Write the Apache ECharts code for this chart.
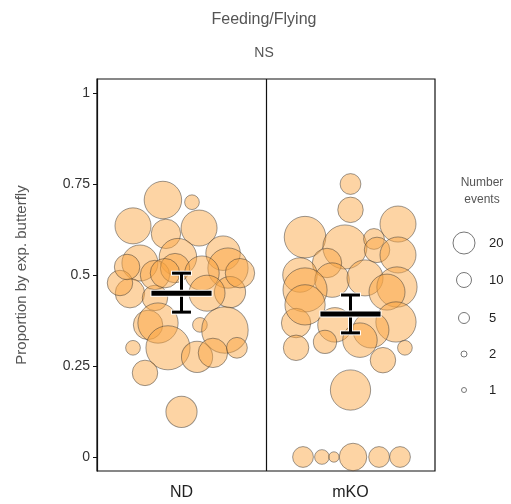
<!DOCTYPE html>
<html>
<head>
<meta charset="utf-8">
<script src="https://cdn.jsdelivr.net/npm/echarts@6/dist/echarts.min.js"></script>
<style>html,body{margin:0;padding:0;background:#fff}#c{width:511px;height:504px}</style>
</head>
<body>
<div id="c"></div>
<script>
// ---- data ----
const categories = ['ND', 'mKO'];
const yTicks = [0, 0.25, 0.5, 0.75, 1];

// ND group: jitter offset (category units), proportion, number of events
const ndOffset = [-0.11, 0.062, -0.287, -0.092, 0.104, -0.246, -0.021, 0.246, 0.275, -0.305, -0.157, -0.157, -0.038, -0.098, 0.121, 0.287, 0.151, -0.364, -0.322, 0.346, -0.198, -0.139, 0.109, 0.257, -0.08, -0.287, 0.092, 0.186, 0.328, -0.216, 0];
const ndProp   = [0.706, 0.70, 0.635, 0.613, 0.629, 0.533, 0.549, 0.56, 0.519, 0.45, 0.437, 0.50, 0.519, 0.505, 0.505, 0.453, 0.45, 0.478, 0.522, 0.505, 0.363, 0.368, 0.363, 0.349, 0.30, 0.30, 0.275, 0.286, 0.30, 0.231, 0.124];
const ndEvents = [13, 2, 12, 8, 12, 12, 13, 11, 15, 8, 6, 8, 8, 8, 11, 9, 12, 6, 6, 8, 8, 15, 2, 20, 18, 2, 9, 8, 4, 6, 9];

// mKO group
const mkoOffset = [0, 0, -0.269, 0.281, -0.033, 0.139, 0.157, 0.281, -0.139, -0.299, -0.109, 0.086, 0.275, -0.269, 0.216, -0.322, -0.269, -0.092, 0.269, 0.121, -0.322, -0.151, 0.056, 0.322, 0.192, 0, -0.281, -0.169, -0.098, 0.015, 0.169, 0.293];
const mkoProp   = [0.75, 0.679, 0.604, 0.64, 0.577, 0.599, 0.569, 0.555, 0.533, 0.50, 0.486, 0.492, 0.467, 0.459, 0.453, 0.368, 0.418, 0.363, 0.371, 0.349, 0.30, 0.316, 0.321, 0.30, 0.266, 0.184, 0, 0, 0, 0, 0, 0];
const mkoEvents = [4, 6, 16, 12, 18, 4, 6, 12, 8, 11, 11, 12, 15, 18, 12, 8, 15, 11, 15, 12, 6, 5, 11, 2, 6, 15, 4, 2, 1, 7, 4, 4];

// summary: mean and error bounds per group
const meanValues  = [0.45, 0.393];
const lowerValues = [0.398, 0.341];
const upperValues = [0.505, 0.445];

// legend
const legendCounts = [20, 10, 5, 2, 1];

// ---- build ----
function pts(off, prop, ev, catIdx) {
  return off.map((o, i) => [catIdx + 1 + o, prop[i], ev[i]]);
}
const ndData = pts(ndOffset, ndProp, ndEvents, 0);
const mkoData = pts(mkoOffset, mkoProp, mkoEvents, 1);
const sumData = meanValues.map((m, i) => [i + 1, m, lowerValues[i], upperValues[i]]);

const bubbleSize = v => 2 * 5.2 * Math.sqrt(v[2]);
const bubbleStyle = {
  color: 'rgba(250,166,65,0.6)',
  borderColor: 'rgba(50,50,50,0.6)',
  borderWidth: 1
};

const chart = echarts.init(document.getElementById('c'), null, {renderer: 'canvas'});

const legendY = [243, 280, 318, 354, 390];
const legendR = [11, 7.5, 5.5, 3, 2.5];
const graphics = [
  {type: 'text', style: {text: 'Number\nevents', x: 482, y: 174, align: 'center', fill: '#555', font: '12px "Liberation Sans", Arial, sans-serif', lineHeight: 17}, silent: true}
];
legendCounts.forEach((c, i) => {
  graphics.push({type: 'circle', shape: {cx: 464, cy: legendY[i], r: legendR[i]}, style: {fill: '#fff', stroke: '#777', lineWidth: 1}, silent: true});
  graphics.push({type: 'text', style: {text: String(c), x: 489, y: legendY[i], verticalAlign: 'middle', fill: '#222', font: '13px "Liberation Sans", Arial, sans-serif'}, silent: true});
});

const option = {
  animation: false,
  backgroundColor: '#fff',
  title: [
    {text: 'Feeding/Flying', left: 259, textAlign: 'center', top: 7, textStyle: {fontSize: 16, fontWeight: 'normal', color: '#555', fontFamily: '"Liberation Sans", Arial, sans-serif'}},
    {text: 'NS', left: 259, textAlign: 'center', top: 41, textStyle: {fontSize: 14, fontWeight: 'normal', color: '#555', fontFamily: '"Liberation Sans", Arial, sans-serif'}}
  ],
  grid: {left: 97, right: 76, top: 79, bottom: 33, show: true, borderColor: '#111', borderWidth: 1.2, backgroundColor: 'transparent'},
  xAxis: {
    type: 'value', min: 0.5, max: 2.5, interval: 0.5,
    splitLine: {show: false},
    axisLine: {show: false},
    axisTick: {show: false},
    axisLabel: {
      customValues: [1, 2],
      formatter: v => categories[Math.round(v) - 1] || '',
      fontSize: 16, color: '#222', margin: 14,
      fontFamily: '"Liberation Sans", Arial, sans-serif'
    }
  },
  yAxis: {
    type: 'value', min: -0.0385, max: 1.0385,
    name: 'Proportion by exp. butterfly', nameLocation: 'middle', nameGap: 68, nameRotate: 90,
    nameTextStyle: {fontSize: 15, color: '#555', fontFamily: '"Liberation Sans", Arial, sans-serif'},
    splitLine: {show: false},
    axisLine: {show: true, onZero: false, lineStyle: {color: '#111', width: 1.2}},
    axisTick: {show: true, customValues: yTicks, length: 4, lineStyle: {color: '#111'}},
    axisLabel: {customValues: yTicks, fontSize: 14, color: '#333', margin: 7, fontFamily: '"Liberation Sans", Arial, sans-serif'}
  },
  series: [
    {
      type: 'scatter', data: ndData, symbolSize: bubbleSize, itemStyle: bubbleStyle, z: 2,
      markLine: {silent: true, symbol: 'none', label: {show: false}, lineStyle: {color: '#111', width: 1.2, type: 'solid'}, data: [{xAxis: 1.5}]}
    },
    {type: 'scatter', data: mkoData, symbolSize: bubbleSize, itemStyle: bubbleStyle, z: 2},
    {
      type: 'custom', z: 5, data: sumData,
      renderItem: function (params, api) {
        const x = api.value(0);
        const c = api.coord([x, api.value(1)]);
        const lo = api.coord([x, api.value(2)]);
        const hi = api.coord([x, api.value(3)]);
        const hw = api.size([0.178, 0])[0];
        const cw = api.size([0.056, 0])[0];
        const line = (x1, y1, x2, y2, w, col) => ({type: 'line', shape: {x1, y1, x2, y2}, style: {stroke: col, lineWidth: w, lineCap: 'butt'}});
        return {type: 'group', children: [
          line(c[0], hi[1] - 1, c[0], lo[1] + 1, 5, '#fff'),
          line(c[0] - cw - 1, hi[1], c[0] + cw + 1, hi[1], 5, '#fff'),
          line(c[0] - cw - 1, lo[1], c[0] + cw + 1, lo[1], 5, '#fff'),
          line(c[0], hi[1], c[0], lo[1], 3, '#000'),
          line(c[0] - cw, hi[1], c[0] + cw, hi[1], 3, '#000'),
          line(c[0] - cw, lo[1], c[0] + cw, lo[1], 3, '#000'),
          line(c[0] - hw - 1, c[1], c[0] + hw + 1, c[1], 7, '#fff'),
          line(c[0] - hw, c[1], c[0] + hw, c[1], 5, '#000')
        ]};
      }
    }
  ],
  graphic: graphics
};
chart.setOption(option);
</script>
</body>
</html>
